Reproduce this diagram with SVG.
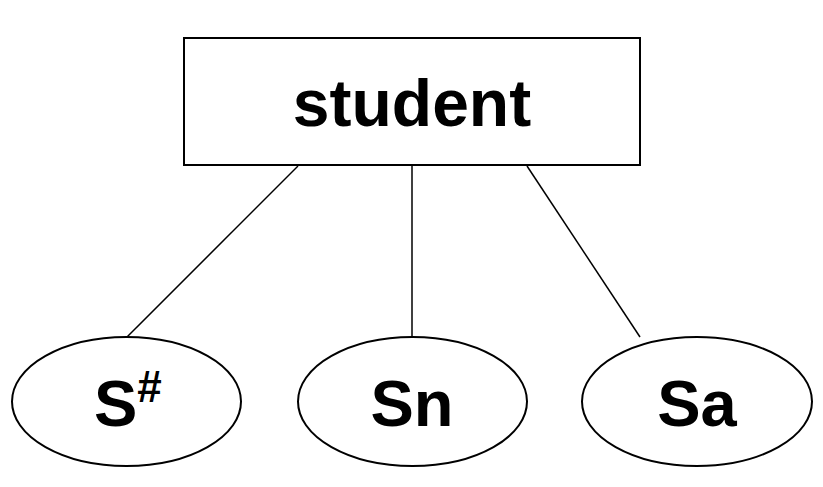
<svg xmlns="http://www.w3.org/2000/svg" width="823" height="487" viewBox="0 0 823 487">
<style>
.shape{fill:#fff;stroke:#000;stroke-width:2}
.conn{stroke:#000;stroke-width:1.5;fill:none}
.lbl{font-family:"Liberation Sans",Arial,sans-serif;font-weight:bold;fill:#000;text-anchor:middle}
</style>
<rect width="823" height="487" fill="#fff"/>
<g id="connectors">
<line class="conn" x1="298" y1="166" x2="127" y2="337"/>
<line class="conn" x1="412" y1="166" x2="412" y2="337"/>
<line class="conn" x1="527" y1="166" x2="640" y2="337"/>
</g>
<g id="student">
<rect class="shape" x="184" y="38" width="456" height="127"/>
<text class="lbl" x="412" y="126" font-size="66">student</text>
</g>
<g id="s_num">
<ellipse class="shape" cx="126.5" cy="401.5" rx="114.5" ry="64.5"/>
<text class="lbl" x="94" y="426" font-size="65" style="text-anchor:start">S<tspan font-size="44" dy="-24">#</tspan></text>
</g>
<g id="sn">
<ellipse class="shape" cx="412.5" cy="401.5" rx="114.5" ry="64.5"/>
<text class="lbl" x="412" y="426" font-size="65">Sn</text>
</g>
<g id="sa">
<ellipse class="shape" cx="697" cy="401.5" rx="115" ry="64.5"/>
<text class="lbl" x="697" y="426" font-size="65">Sa</text>
</g>
</svg>
